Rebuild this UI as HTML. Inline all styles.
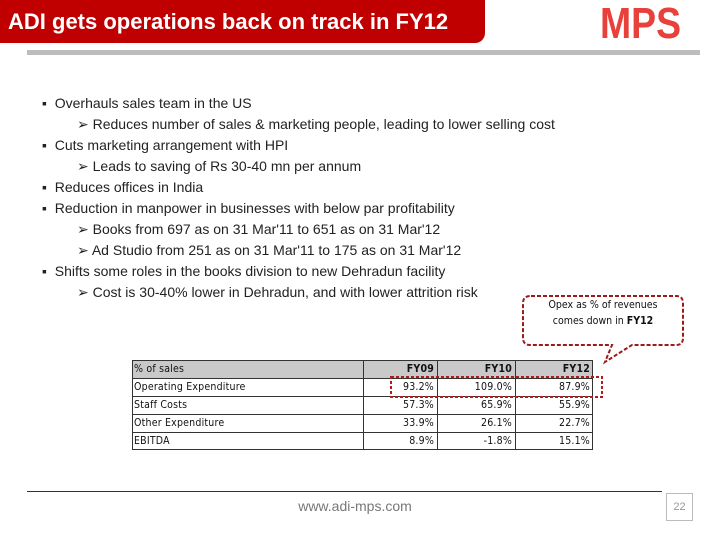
<!DOCTYPE html>
<html><head><meta charset="utf-8"><style>
body{margin:0;width:720px;height:540px;background:#fff;position:relative;overflow:hidden;font-family:"Liberation Sans",sans-serif}
.abs{position:absolute}
.b{position:absolute;font-size:14px;color:#222;white-space:nowrap;line-height:16px}
.t{position:absolute;font-size:10.5px;color:#111;white-space:nowrap;line-height:18px;font-family:"DejaVu Sans Condensed","Liberation Sans Narrow","Liberation Sans",sans-serif;letter-spacing:0.2px}
</style></head><body>
<div class="abs" style="left:0;top:0;width:485px;height:43px;background:#c00000;border-bottom-right-radius:10px"></div>
<div class="abs" style="left:8px;top:9px;font-size:22px;font-weight:bold;color:#fff;white-space:nowrap">ADI gets operations back on track in FY12</div>
<div class="abs" style="left:600px;top:-1px;font-size:44px;font-weight:bold;color:#e8403a;font-family:'Liberation Sans Narrow','Liberation Sans',sans-serif;transform:scaleX(0.85);transform-origin:left">MPS</div>
<div class="abs" style="left:27px;top:50px;width:673px;height:5px;background:#bdbdbd"></div>

<div>
<div class="b" style="left:42px;top:95px">▪&nbsp; Overhauls sales team in the US</div>
<div class="b" style="left:77px;top:116px">➢ Reduces number of sales &amp; marketing people, leading to lower selling cost</div>
<div class="b" style="left:42px;top:137px">▪&nbsp; Cuts marketing arrangement with HPI</div>
<div class="b" style="left:77px;top:158px">➢ Leads to saving of Rs 30-40 mn per annum</div>
<div class="b" style="left:42px;top:179px">▪&nbsp; Reduces offices in India</div>
<div class="b" style="left:42px;top:200px">▪&nbsp; Reduction in manpower in businesses with below par profitability</div>
<div class="b" style="left:77px;top:221px">➢ Books from 697 as on 31 Mar'11 to 651 as on 31 Mar'12</div>
<div class="b" style="left:77px;top:242px">➢ Ad Studio from 251 as on 31 Mar'11 to 175 as on 31 Mar'12</div>
<div class="b" style="left:42px;top:263px">▪&nbsp; Shifts some roles in the books division to new Dehradun facility</div>
<div class="b" style="left:77px;top:284px">➢ Cost is 30-40% lower in Dehradun, and with lower attrition risk</div>
</div>

<svg class="abs" style="left:0;top:0" width="720" height="540">
<path d="M531,296 H676 Q683,296 683,303 V338 Q683,345 676,345 H632 L605,362 L612,345 H530 Q523,345 523,338 V303 Q523,296 531,296 Z" fill="#fff" stroke="#9b1b1b" stroke-width="2" stroke-dasharray="4,2"/>
</svg>
<div class="abs" style="left:523px;top:297px;width:160px;text-align:center;font-size:10.5px;line-height:16px;color:#111;font-family:'DejaVu Sans Condensed','Liberation Sans',sans-serif">Opex as % of revenues<br>comes down in <b>FY12</b></div>

<div class="abs" style="left:132px;top:360px;width:461px;height:90px;border:1px solid #333;box-sizing:border-box"></div>
<div class="abs" style="left:133px;top:361px;width:459px;height:17px;background:#c9c9c9"></div>
<div id="grid"></div>
<svg class="abs" style="left:0;top:0" width="720" height="540">
<rect x="391" y="377" width="211" height="20" fill="none" stroke="#b01c1c" stroke-width="2" stroke-dasharray="3,2"/>
</svg>

<div class="abs" style="left:27px;top:491px;width:635px;height:1px;background:#6b1a1a"></div>
<div class="abs" style="left:255px;top:498px;width:200px;text-align:center;font-size:14px;color:#777">www.adi-mps.com</div>
<div class="abs" style="left:666px;top:493px;width:27px;height:28px;border:1px solid #bbb;box-sizing:border-box;font-size:11px;color:#999;text-align:center;line-height:26px">22</div>

<script>
const headers=["% of sales","FY09","FY10","FY12"];
const rowLabels=["Operating Expenditure","Staff Costs","Other Expenditure","EBITDA"];
const fy09=["93.2%","57.3%","33.9%","8.9%"];
const fy10=["109.0%","65.9%","26.1%","-1.8%"];
const fy12=["87.9%","55.9%","22.7%","15.1%"];
const colX=[132,363,437,515,593];
const rowY=[360,378,396,414,432,450];
const g=document.getElementById('grid');
function line(x,y,w,h){const d=document.createElement('div');d.className='abs';d.style.cssText=`left:${x}px;top:${y}px;width:${w}px;height:${h}px;background:#333`;


g.appendChild(d);}
for(let i=1;i<rowY.length-1;i++)line(132,rowY[i],461,1);
for(let j=1;j<colX.length-1;j++)line(colX[j],360,1,90);
function cell(txt,c,r,bold,name){const d=document.createElement('div');d.className='t';
const l=colX[c]+2,w=colX[c+1]-colX[c]-5;
d.style.cssText+=`left:${l}px;top:${rowY[r]}px;width:${w}px;text-align:${c==0?'left':'right'};${bold?'font-weight:bold;':''}`;
d.textContent=txt;


g.appendChild(d);}
headers.forEach((h,c)=>cell(h,c,0,c>0,'table-header-cell'));
const cols=[fy09,fy10,fy12];
rowLabels.forEach((lab,r)=>{cell(lab,0,r+1,false,'row-label');cols.forEach((s,c)=>cell(s[r],c+1,r+1,false,'table-value-cell'));});
</script>
</body></html>
